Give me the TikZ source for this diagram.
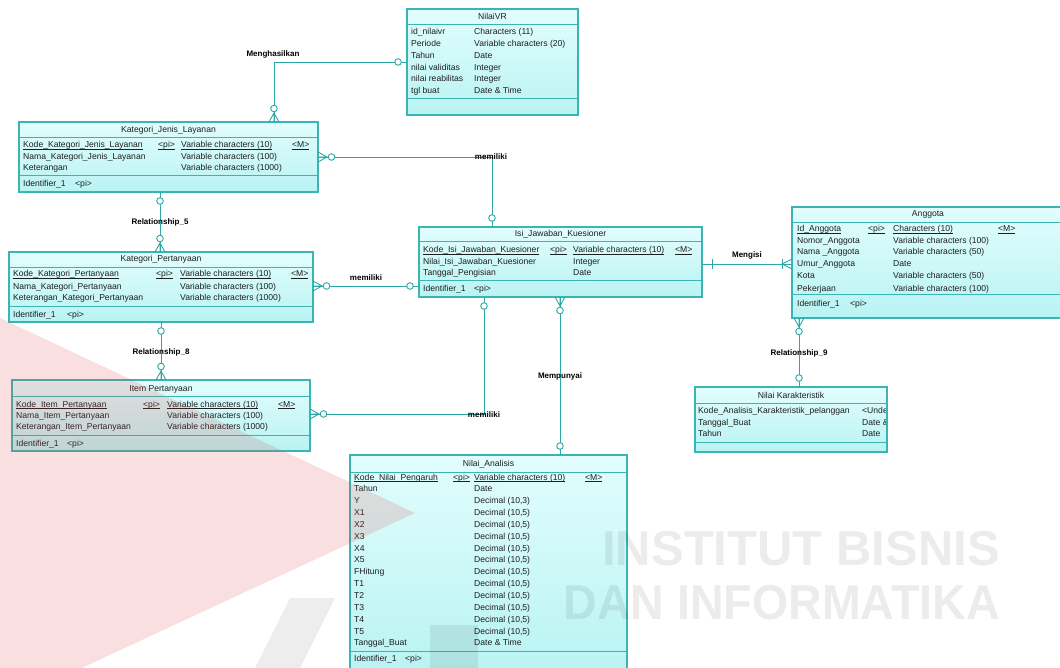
\documentclass[tikz,border=0pt]{standalone}
\usepackage{fontspec}
\setmainfont{Liberation Sans}
\usetikzlibrary{calc}

\definecolor{edge}{RGB}{60,180,180}
\definecolor{wire}{RGB}{45,168,168}
\definecolor{ink}{RGB}{30,30,30}
\definecolor{boxtop}{RGB}{226,253,253}
\definecolor{boxbot}{RGB}{185,243,243}
\definecolor{logored}{RGB}{220,60,60}

\tikzset{
  entity/.style={draw=edge, line width=1.1pt, top color=boxtop, bottom color=boxbot,
                 anchor=north west, inner sep=0pt, outer sep=0pt},
  divider/.style={draw=edge, line width=1pt},
  txt/.style={font=\fontsize{8.6}{9}\selectfont, text=ink, inner sep=0pt, anchor=base west},
  ttl/.style={txt, anchor=base},
  rel/.style={draw=wire, line width=0.9pt},
  rlabel/.style={font=\bfseries\fontsize{8}{8}\selectfont, text=black, inner sep=0.5pt},
  wmtext/.style={font=\bfseries\fontsize{49}{49}\selectfont, text=black, opacity=0.075,
                 anchor=east, inner sep=0pt},
  % connector end markers; local +x points away from the entity
  zo/.pic={\draw[rel, fill=white] (9,0) circle[radius=3.3pt];},
  zm/.pic={\draw[rel] (0,-5) -- (9,0) -- (0,5) (0,0) -- (9,0);
           \draw[rel, fill=white] (13.5,0) circle[radius=3.3pt];},
  onebar/.pic={\draw[rel] (10,-5) -- (10,5);},
  om/.pic={\draw[rel] (0,-5) -- (10,0) -- (0,5); \draw[rel] (10,-5) -- (10,5);},
}

% horizontal divider inside an entity, #2 below its top edge
\newcommand\hsep[2]{\draw[divider] ($(#1.north west)+(0,#2)$) -- ($(#1.north east)+(0,#2)$);}
% key attributes: underline close to the baseline
\newcommand\keyul[1]{\underline{\smash{#1}}}

\begin{document}
\begin{tikzpicture}[x=1pt,y=-1pt]
\clip (0,0) rectangle (1060,668);
\fill[white] (0,0) rectangle (1060,668);

% ---------------- NilaiVR ----------------
\node[entity, minimum width=171pt, minimum height=106pt] (nvr) at (407,9) {};
\hsep{nvr}{16}\hsep{nvr}{90}
\node[ttl] (nvr-t) at (492.5,20) {NilaiVR};
\node[txt] (nvr-1a) at (411,35) {id\_nilaivr};        \node[txt] (nvr-1b) at (474,35) {Characters (11)};
\node[txt] (nvr-2a) at (411,47) {Periode};            \node[txt] (nvr-2b) at (474,47) {Variable characters (20)};
\node[txt] (nvr-3a) at (411,59) {Tahun};              \node[txt] (nvr-3b) at (474,59) {Date};
\node[txt] (nvr-4a) at (411,71) {nilai validitas};    \node[txt] (nvr-4b) at (474,71) {Integer};
\node[txt] (nvr-5a) at (411,82) {nilai reabilitas};   \node[txt] (nvr-5b) at (474,82) {Integer};
\node[txt] (nvr-6a) at (411,94) {tgl buat};           \node[txt] (nvr-6b) at (474,94) {Date \& Time};

% ---------------- Kategori_Jenis_Layanan ----------------
\node[entity, minimum width=299pt, minimum height=70pt] (kjl) at (19,122) {};
\hsep{kjl}{16}\hsep{kjl}{54}
\node[ttl] (kjl-t) at (168.5,133) {Kategori\_Jenis\_Layanan};
\node[txt] (kjl-1a) at (23,148) {\keyul{Kode\_Kategori\_Jenis\_Layanan}};
\node[txt] (kjl-1p) at (158,148) {\keyul{<pi>}};
\node[txt] (kjl-1b) at (181,148) {\keyul{Variable characters (10)}};
\node[txt] (kjl-1m) at (292,148) {\keyul{<M>}};
\node[txt] (kjl-2a) at (23,160) {Nama\_Kategori\_Jenis\_Layanan}; \node[txt] (kjl-2b) at (181,160) {Variable characters (100)};
\node[txt] (kjl-3a) at (23,171) {Keterangan};                    \node[txt] (kjl-3b) at (181,171) {Variable characters (1000)};
\node[txt] (kjl-id) at (23,187) {Identifier\_1}; \node[txt] (kjl-idp) at (75,187) {<pi>};

% ---------------- Kategori_Pertanyaan ----------------
\node[entity, minimum width=304pt, minimum height=70pt] (kp) at (9,252) {};
\hsep{kp}{16}\hsep{kp}{55}
\node[ttl] (kp-t) at (161,262) {Kategori\_Pertanyaan};
\node[txt] (kp-1a) at (13,277) {\keyul{Kode\_Kategori\_Pertanyaan}};
\node[txt] (kp-1p) at (156,277) {\keyul{<pi>}};
\node[txt] (kp-1b) at (180,277) {\keyul{Variable characters (10)}};
\node[txt] (kp-1m) at (291,277) {\keyul{<M>}};
\node[txt] (kp-2a) at (13,290) {Nama\_Kategori\_Pertanyaan};       \node[txt] (kp-2b) at (180,290) {Variable characters (100)};
\node[txt] (kp-3a) at (13,301) {Keterangan\_Kategori\_Pertanyaan}; \node[txt] (kp-3b) at (180,301) {Variable characters (1000)};
\node[txt] (kp-id) at (13,317) {Identifier\_1}; \node[txt] (kp-idp) at (67,317) {<pi>};

% ---------------- Item Pertanyaan ----------------
\node[entity, minimum width=298pt, minimum height=71pt] (ip) at (12,380) {};
\hsep{ip}{16}\hsep{ip}{55}
\node[ttl] (ip-t) at (161,391) {Item Pertanyaan};
\node[txt] (ip-1a) at (16,407) {\keyul{Kode\_Item\_Pertanyaan}};
\node[txt] (ip-1p) at (143,407) {\keyul{<pi>}};
\node[txt] (ip-1b) at (167,407) {\keyul{Variable characters (10)}};
\node[txt] (ip-1m) at (278,407) {\keyul{<M>}};
\node[txt] (ip-2a) at (16,418) {Nama\_Item\_Pertanyaan};       \node[txt] (ip-2b) at (167,418) {Variable characters (100)};
\node[txt] (ip-3a) at (16,429) {Keterangan\_Item\_Pertanyaan}; \node[txt] (ip-3b) at (167,429) {Variable characters (1000)};
\node[txt] (ip-id) at (16,446) {Identifier\_1}; \node[txt] (ip-idp) at (67,446) {<pi>};

% ---------------- Isi_Jawaban_Kuesioner ----------------
\node[entity, minimum width=283pt, minimum height=70pt] (ijk) at (419,227) {};
\hsep{ijk}{15}\hsep{ijk}{54}
\node[ttl] (ijk-t) at (560.5,237) {Isi\_Jawaban\_Kuesioner};
\node[txt] (ijk-1a) at (423,253) {\keyul{Kode\_Isi\_Jawaban\_Kuesioner}};
\node[txt] (ijk-1p) at (550,253) {\keyul{<pi>}};
\node[txt] (ijk-1b) at (573,253) {\keyul{Variable characters (10)}};
\node[txt] (ijk-1m) at (675,253) {\keyul{<M>}};
\node[txt] (ijk-2a) at (423,265) {Nilai\_Isi\_Jawaban\_Kuesioner}; \node[txt] (ijk-2b) at (573,265) {Integer};
\node[txt] (ijk-3a) at (423,276) {Tanggal\_Pengisian};            \node[txt] (ijk-3b) at (573,276) {Date};
\node[txt] (ijk-id) at (423,292) {Identifier\_1}; \node[txt] (ijk-idp) at (474,292) {<pi>};

% ---------------- Anggota ----------------
\node[entity, minimum width=272pt, minimum height=111pt] (ang) at (792,207) {};
\hsep{ang}{16}\hsep{ang}{88}
\node[ttl] (ang-t) at (928,217) {Anggota};
\node[txt] (ang-1a) at (797,232) {\keyul{Id\_Anggota}};
\node[txt] (ang-1p) at (868,232) {\keyul{<pi>}};
\node[txt] (ang-1b) at (893,232) {\keyul{Characters (10)}};
\node[txt] (ang-1m) at (998,232) {\keyul{<M>}};
\node[txt] (ang-2a) at (797,244) {Nomor\_Anggota}; \node[txt] (ang-2b) at (893,244) {Variable characters (100)};
\node[txt] (ang-3a) at (797,255) {Nama \_Anggota}; \node[txt] (ang-3b) at (893,255) {Variable characters (50)};
\node[txt] (ang-4a) at (797,267) {Umur\_Anggota};  \node[txt] (ang-4b) at (893,267) {Date};
\node[txt] (ang-5a) at (797,279) {Kota};          \node[txt] (ang-5b) at (893,279) {Variable characters (50)};
\node[txt] (ang-6a) at (797,291) {Pekerjaan};     \node[txt] (ang-6b) at (893,291) {Variable characters (100)};
\node[txt] (ang-id) at (797,306) {Identifier\_1}; \node[txt] (ang-idp) at (850,306) {<pi>};

% ---------------- Nilai Karakteristik ----------------
\node[entity, minimum width=192pt, minimum height=65pt] (nk) at (695,387) {};
\hsep{nk}{16}\hsep{nk}{55}
\node[ttl] (nk-t) at (791,398) {Nilai Karakteristik};
\node[txt] (nk-1a) at (698,413) {Kode\_Analisis\_Karakteristik\_pelanggan};
\node[txt] (nk-2a) at (698,425) {Tanggal\_Buat};
\node[txt] (nk-3a) at (698,436) {Tahun};
\begin{scope}
  \clip (nk.north west) rectangle ($(nk.south east)+(-1.5,0)$);
  \node[txt] (nk-1b) at (862,413) {<Undefined>};
  \node[txt] (nk-2b) at (862,425) {Date \& Time};
  \node[txt] (nk-3b) at (862,436) {Date};
\end{scope}

% ---------------- Nilai_Analisis ----------------
\node[entity, minimum width=277pt, minimum height=221pt] (na) at (350,455) {};
\hsep{na}{17}\hsep{na}{196}
\node[ttl] (na-t) at (488.5,466) {Nilai\_Analisis};
\node[txt] (na-1a) at (354,480) {\keyul{Kode\_Nilai\_Pengaruh}};
\node[txt] (na-1p) at (453,480) {\keyul{<pi>}};
\node[txt] (na-1b) at (474,480) {\keyul{Variable characters (10)}};
\node[txt] (na-1m) at (585,480) {\keyul{<M>}};
\foreach \k/\f/\t in {1/Tahun/Date, 2/Y/{Decimal (10,3)}, 3/X1/{Decimal (10,5)}, 4/X2/{Decimal (10,5)},
                      5/X3/{Decimal (10,5)}, 6/X4/{Decimal (10,5)}, 7/X5/{Decimal (10,5)},
                      8/FHitung/{Decimal (10,5)}, 9/T1/{Decimal (10,5)}, 10/T2/{Decimal (10,5)},
                      11/T3/{Decimal (10,5)}, 12/T4/{Decimal (10,5)}, 13/T5/{Decimal (10,5)},
                      14/Tanggal\_Buat/{Date \& Time}}{
  \node[txt] (na-\k a) at (354,480+11.85*\k) {\f};
  \node[txt] (na-\k b) at (474,480+11.85*\k) {\t};
}
\node[txt] (na-id) at (354,661) {Identifier\_1}; \node[txt] (na-idp) at (405,661) {<pi>};

% ---------------- relationships ----------------
% Menghasilkan
\draw[rel] (nvr.west |- 0,62) -| (274,0 |- kjl.north);
\pic[rotate=180] at (nvr.west |- 0,62) {zo};
\pic[rotate=90] at (274,0 |- kjl.north) {zm};
\node[rlabel] (lbl-hasil) at (273,54) {Menghasilkan};

% memiliki: Kategori_Jenis_Layanan - Isi_Jawaban_Kuesioner
\draw[rel] (kjl.east |- 0,157) -| (492,0 |- ijk.north);
\pic at (kjl.east |- 0,157) {zm};
\pic[rotate=90] at (492,0 |- ijk.north) {zo};
\node[rlabel] (lbl-mil1) at (491,157) {memiliki};

% memiliki: Kategori_Pertanyaan - Isi_Jawaban_Kuesioner
\draw[rel] (kp.east |- 0,286) -- (ijk.west |- 0,286);
\pic at (kp.east |- 0,286) {zm};
\pic[rotate=180] at (ijk.west |- 0,286) {zo};
\node[rlabel] (lbl-mil2) at (366,278) {memiliki};

% memiliki: Item Pertanyaan - Isi_Jawaban_Kuesioner
\draw[rel] (ip.east |- 0,414) -| (484,0 |- ijk.south);
\pic at (ip.east |- 0,414) {zm};
\pic[rotate=-90] at (484,0 |- ijk.south) {zo};
\node[rlabel] (lbl-mil3) at (484,415) {memiliki};

% Relationship_5
\draw[rel] (160,0 |- kjl.south) -- (160,0 |- kp.north);
\pic[rotate=-90] at (160,0 |- kjl.south) {zo};
\pic[rotate=90] at (160,0 |- kp.north) {zm};
\node[rlabel] (lbl-r5) at (160,222) {Relationship\_5};

% Relationship_8
\draw[rel] (161,0 |- kp.south) -- (161,0 |- ip.north);
\pic[rotate=-90] at (161,0 |- kp.south) {zo};
\pic[rotate=90] at (161,0 |- ip.north) {zm};
\node[rlabel] (lbl-r8) at (161,352) {Relationship\_8};

% Mengisi
\draw[rel] (ijk.east |- 0,264) -- (ang.west |- 0,264);
\pic at (ijk.east |- 0,264) {onebar};
\pic[rotate=180] at (ang.west |- 0,264) {om};
\node[rlabel] (lbl-isi) at (747,255) {Mengisi};

% Relationship_9
\draw[rel] (799,0 |- ang.south) -- (799,0 |- nk.north);
\pic[rotate=-90] at (799,0 |- ang.south) {zm};
\pic[rotate=90] at (799,0 |- nk.north) {zo};
\node[rlabel] (lbl-r9) at (799,353) {Relationship\_9};

% Mempunyai
\draw[rel] (560,0 |- ijk.south) -- (560,0 |- na.north);
\pic[rotate=-90] at (560,0 |- ijk.south) {zm};
\pic[rotate=90] at (560,0 |- na.north) {zo};
\node[rlabel] (lbl-pny) at (560,376) {Mempunyai};

% ---------------- watermark ----------------
\fill[logored, opacity=0.16] (0,318) -- (415,513) -- (0,706) -- cycle;
\fill[black, opacity=0.07] (255,668) -- (290,598) -- (335,598) -- (300,668) -- cycle;
\fill[black, opacity=0.07] (430,625) rectangle (478,668);
\node[wmtext] (wm-1) at (1000,549) {INSTITUT BISNIS};
\node[wmtext, xscale=0.95] (wm-2) at (1000,603) {DAN INFORMATIKA};
\end{tikzpicture}
\end{document}
